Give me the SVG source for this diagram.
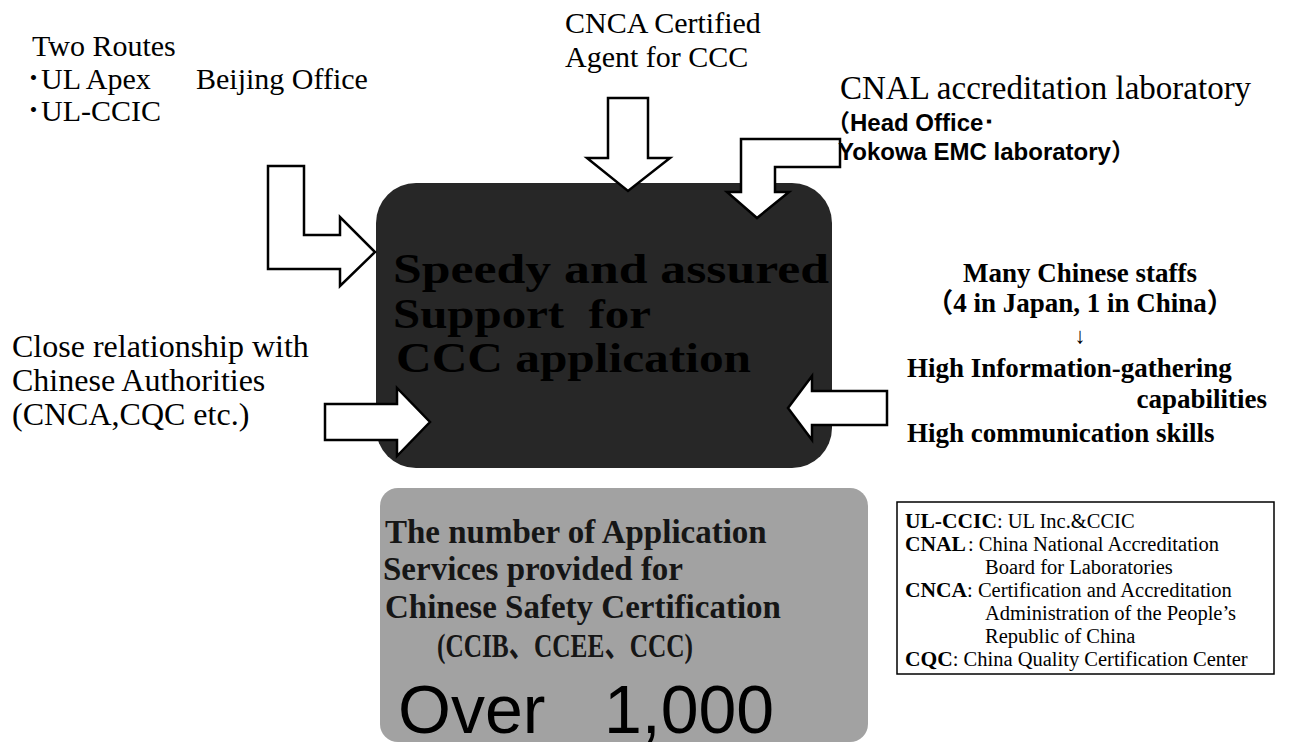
<svg xmlns="http://www.w3.org/2000/svg" width="1292" height="755" viewBox="0 0 1292 755">
<style>
.serif{font-family:"Liberation Serif","Times New Roman",serif;fill:#000}
.cjk{font-family:"Liberation Serif","Noto Sans CJK JP",serif;fill:#000}
.sans{font-family:"Liberation Sans",Arial,sans-serif;fill:#000}
.arrow{fill:#fff;stroke:#000;stroke-width:2.5;stroke-linejoin:miter}
.big{font-size:30px}
.side{font-size:32px}
.rt{font-size:27px;font-weight:bold}
.dark{font-size:42px;font-weight:bold;fill:#000}
.gray{font-size:33px;font-weight:bold;fill:#161616}
.leg{font-size:20.5px}
.legb{font-size:21.5px;font-weight:bold}
</style>
<rect width="1292" height="755" fill="#fff"/>

<g id="main-box">
<rect x="376" y="183" width="456" height="285" rx="40" fill="#272727"/>
<text class="serif dark" x="393" y="283" textLength="436" lengthAdjust="spacingAndGlyphs">Speedy and assured</text>
<text class="serif dark" x="393" y="328" textLength="258" lengthAdjust="spacingAndGlyphs" xml:space="preserve">Support  for</text>
<text class="serif dark" x="396" y="372" textLength="355" lengthAdjust="spacingAndGlyphs">CCC application</text>
</g>

<g id="count-box">
<rect x="380" y="488" width="488" height="254" rx="18" fill="#a2a2a2"/>
<text class="serif gray" x="385" y="543">The number of Application</text>
<text class="serif gray" x="383" y="580">Services provided for</text>
<text class="serif gray" x="385" y="618">Chinese Safety Certification</text>
<text class="cjk gray" x="437" y="657" textLength="256" lengthAdjust="spacingAndGlyphs">(CCIB、CCEE、CCC)</text>
<text class="sans" font-size="68" fill="#151515" x="398" y="733">Over</text>
<text class="sans" font-size="68" fill="#151515" x="604" y="733">1,000</text>
</g>

<g id="connectors">
<polygon class="arrow" points="268,166 304,166 304,235 340,235 340,217 375,252 340,286 340,269 268,269"/>
<polygon class="arrow" points="608,98 648,98 648,158 670,158 628,191 587,158 608,158"/>
<polygon class="arrow" points="840,139 741,139 741,192 727,192 757,218 789,192 775,192 775,167 840,167"/>
<polygon class="arrow" points="325,404 397,404 397,388 430,422 397,456 397,440 325,440"/>
<polygon class="arrow" points="887,391 812,391 812,376 788,408 812,440 812,425 887,425"/>
</g>

<g id="two-routes">
<text class="serif big" x="32" y="56">Two Routes</text>
<text class="cjk big" x="26" y="89">･UL Apex<tspan x="196">Beijing Office</tspan></text>
<text class="cjk big" x="26" y="121">･UL-CCIC</text>
</g>

<g id="cnca-agent">
<text class="serif big" x="565" y="33">CNCA Certified</text>
<text class="serif big" x="565" y="67">Agent for CCC</text>
</g>

<g id="cnal-lab">
<text class="serif" font-size="33" x="840" y="99">CNAL accreditation laboratory</text>
<text class="sans" font-size="24" font-weight="bold" x="826" y="131"><tspan font-family="Noto Sans CJK JP">（</tspan>Head Office･</text>
<text class="sans" font-size="24" font-weight="bold" x="838" y="160">Yokowa EMC laboratory<tspan font-family="Noto Sans CJK JP">）</tspan></text>
</g>

<g id="authorities">
<text class="serif side" x="12" y="357">Close relationship with</text>
<text class="serif side" x="12" y="391">Chinese Authorities</text>
<text class="serif side" x="12" y="425">(CNCA,CQC etc.)</text>
</g>

<g id="staff">
<text class="serif rt" x="1080" y="282" text-anchor="middle">Many Chinese staffs</text>
<text class="cjk rt" x="1080" y="312" text-anchor="middle">（4 in Japan, 1 in China）</text>
<text class="serif" font-size="22" font-weight="bold" x="1080" y="343" text-anchor="middle">↓</text>
<text class="serif rt" x="907" y="377">High Information-gathering</text>
<text class="serif rt" x="1267" y="408" text-anchor="end">capabilities</text>
<text class="serif rt" x="907" y="442">High communication skills</text>
</g>

<g id="legend">
<rect x="897" y="502" width="377" height="172" fill="#fff" stroke="#000" stroke-width="1.5"/>
<text class="serif" x="905" y="528"><tspan class="legb">UL-CCIC</tspan><tspan class="leg">: UL Inc.&amp;CCIC</tspan></text>
<text class="serif" x="905" y="551"><tspan class="legb">CNAL</tspan><tspan class="leg" x="968">: China National Accreditation</tspan></text>
<text class="serif leg" x="985" y="574">Board for Laboratories</text>
<text class="serif" x="905" y="597"><tspan class="legb">CNCA</tspan><tspan class="leg">: Certification and Accreditation</tspan></text>
<text class="serif leg" x="985" y="620">Administration of the People’s</text>
<text class="serif leg" x="985" y="643">Republic of China</text>
<text class="serif" x="905" y="666"><tspan class="legb">CQC</tspan><tspan class="leg">: China Quality Certification Center</tspan></text>
</g>
</svg>
